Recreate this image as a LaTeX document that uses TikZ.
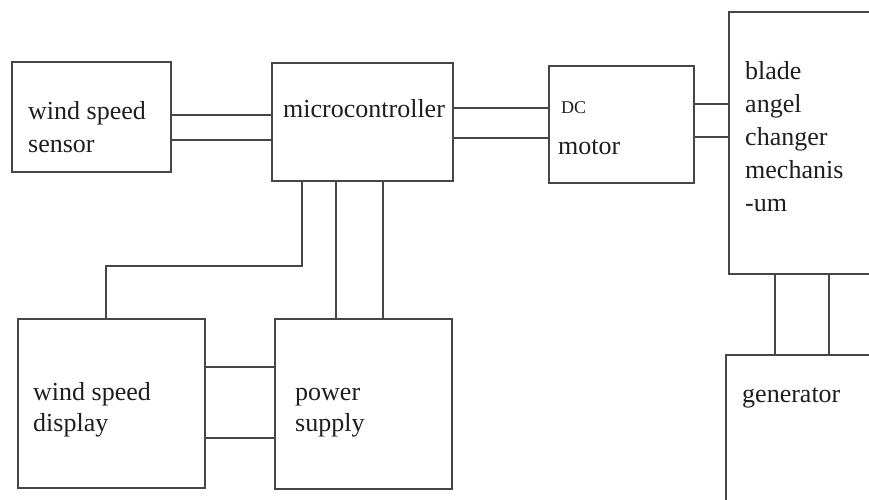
\documentclass[tikz,border=0pt]{standalone}
\usepackage{fontspec}
\setmainfont{Liberation Serif}
\definecolor{linec}{HTML}{464646}
\definecolor{textc}{HTML}{1E1E1E}
\begin{document}
\begin{tikzpicture}[x=1pt,y=-1pt,
  box/.style={draw=linec, line width=1.6pt, inner sep=0pt, outer sep=0pt, anchor=north west},
  txt/.style={anchor=base west, inner sep=0pt, text=textc, font=\fontsize{26}{33}\selectfont},
  small/.style={anchor=base west, inner sep=0pt, text=textc, font=\fontsize{18}{22}\selectfont},
  wire/.style={draw=linec, line width=1.6pt}]
\useasboundingbox (0,0) rectangle (869,499);
\clip (0,0) rectangle (869,499);
% boxes
\node[box, minimum width=159pt, minimum height=110pt] (sensor) at (12,62) {};
\node[box, minimum width=181pt, minimum height=118pt] (micro) at (272,63) {};
\node[box, minimum width=145pt, minimum height=117pt] (motor) at (549,66) {};
\node[box, minimum width=200pt, minimum height=262pt] (blade) at (729,12) {};
\node[box, minimum width=187pt, minimum height=169pt] (display) at (18,319) {};
\node[box, minimum width=177pt, minimum height=170pt] (power) at (275,319) {};
\node[box, minimum width=200pt, minimum height=200pt] (gen) at (726,355) {};
% texts
\node[txt] (sensorT) at (28,119) {\parbox[t]{200pt}{wind speed\\sensor}};
\node[txt] (microT) at (283,117) {microcontroller};
\node[small] (dcT) at (561,113) {DC};
\node[txt] (motorT) at (558,154) {motor};
\node[txt] (bladeT) at (745,79) {\parbox[t]{200pt}{blade\\angel\\changer\\mechanis\\-um}};
\node[txt] (displayT) at (33,400) {\parbox[t]{200pt}{\fontsize{26}{31}\selectfont wind speed\\display}};
\node[txt] (powerT) at (295,400) {\parbox[t]{200pt}{\fontsize{26}{31}\selectfont power\\supply}};
\node[txt] (genT) at (742,402) {generator};
% level coordinates
\coordinate (ya) at (0,115);
\coordinate (yb) at (0,140);
\coordinate (yc) at (0,108);
\coordinate (yd) at (0,138);
\coordinate (ye) at (0,104);
\coordinate (yf) at (0,137);
\coordinate (yg) at (0,367);
\coordinate (yh) at (0,438);
\coordinate (xa) at (775,0);
\coordinate (xb) at (829,0);
\coordinate (xc) at (336,0);
\coordinate (xd) at (383,0);
\coordinate (bendA) at (302,266);
\coordinate (bendB) at (106,266);
% connectors
\draw[wire] (sensor.east |- ya) -- (micro.west |- ya);
\draw[wire] (sensor.east |- yb) -- (micro.west |- yb);
\draw[wire] (micro.east |- yc) -- (motor.west |- yc);
\draw[wire] (micro.east |- yd) -- (motor.west |- yd);
\draw[wire] (motor.east |- ye) -- (blade.west |- ye);
\draw[wire] (motor.east |- yf) -- (blade.west |- yf);
\draw[wire] (blade.south -| xa) -- (gen.north -| xa);
\draw[wire] (blade.south -| xb) -- (gen.north -| xb);
\draw[wire] (micro.south -| xc) -- (power.north -| xc);
\draw[wire] (micro.south -| xd) -- (power.north -| xd);
\draw[wire] (micro.south -| bendA) -- (bendA) -- (bendB) -- (display.north -| bendB);
\draw[wire] (display.east |- yg) -- (power.west |- yg);
\draw[wire] (display.east |- yh) -- (power.west |- yh);
\end{tikzpicture}
\end{document}
